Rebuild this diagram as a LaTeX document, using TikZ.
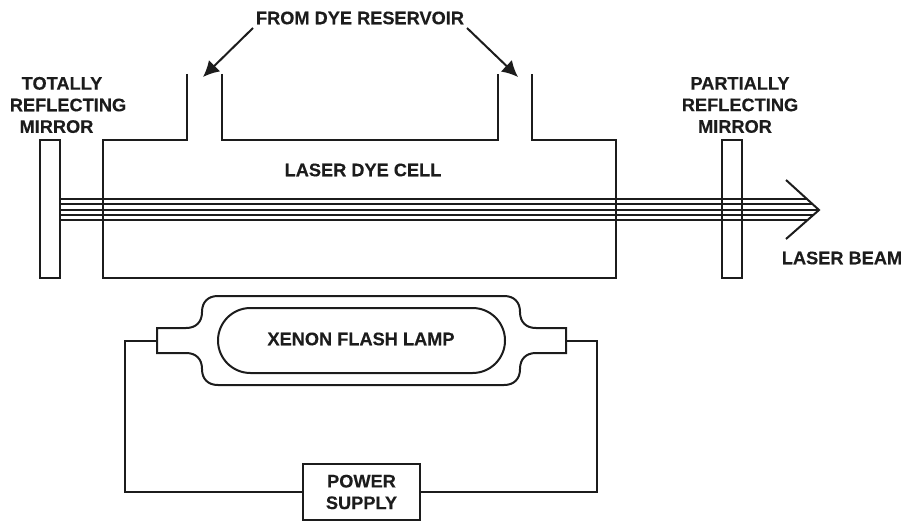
\documentclass[tikz,border=0pt]{standalone}
\usepackage{fontspec}
\setmainfont[BoldFeatures={FakeBold=0.3}]{Liberation Sans}
\usetikzlibrary{arrows.meta}
\definecolor{ink}{HTML}{1C1C1C}
\tikzset{
  wire/.style={draw=ink,line width=2pt,line join=miter},
  beamline/.style={draw=ink,line width=2pt},
  flowarrow/.style={draw=ink,line width=2pt,-{Latex[length=16pt,width=16pt]}},
  mirrorbox/.style={draw=ink,line width=2pt,minimum width=20pt,minimum height=138pt,inner sep=0pt,outer sep=0pt},
  supplybox/.style={draw=ink,line width=2pt,minimum width=117pt,minimum height=56pt,inner sep=0pt,outer sep=0pt},
  lbl/.style={text=ink,inner sep=0pt,align=center,font=\fontsize{18.2}{21.6}\selectfont\bfseries},
}
\begin{document}
\begin{tikzpicture}[x=1pt,y=-1pt]
\useasboundingbox (0,0) rectangle (904,521);
% mirrors
\node[mirrorbox] (mL) at (50,209) {};
\node[mirrorbox] (mR) at (732,209) {};
% dye cell
\draw[wire] (187,74) -- (187,140) -- (103,140) -- (103,278) -- (616,278) -- (616,140) -- (532,140) -- (532,74);
\draw[wire] (222,74) -- (222,140) -- (498,140) -- (498,74);
% beam
\coordinate (tip) at (819,210);
\coordinate (b1) at (60,199);
\coordinate (b2) at (60,204);
\coordinate (b3) at (60,210);
\coordinate (b4) at (60,215);
\coordinate (b5) at (60,220);
\draw[beamline] (b1) -- (807,199);
\draw[beamline] (b2) -- (813,204);
\draw[beamline] (b3) -- (tip);
\draw[beamline] (b4) -- (813,215);
\draw[beamline] (b5) -- (807,220);
\draw[wire] (786,180) -- (tip) -- (786,239);
% lamp envelope
\draw[wire] (157,328) -- (186,328)
  .. controls (196,328) and (202,322) .. (202,312)
  .. controls (202,302) and (208,296) .. (218,296)
  -- (504,296)
  .. controls (514,296) and (520,302) .. (520,312)
  .. controls (520,322) and (526,328) .. (536,328)
  -- (566,328) -- (566,353) -- (536,353)
  .. controls (526,353) and (520,359) .. (520,369)
  .. controls (520,379) and (514,385) .. (504,385)
  -- (218,385)
  .. controls (208,385) and (202,379) .. (202,369)
  .. controls (202,359) and (196,353) .. (186,353)
  -- (157,353) -- cycle;
\coordinate (fL) at (157,341);
\coordinate (fR) at (566,341);
% lamp tube
\node[lbl] (lamp) at (361,339) {XENON FLASH LAMP};
\draw[wire] (250.5,308) -- (472.5,308)
  .. controls (490.5,308) and (505,322.5) .. (505,340.5)
  .. controls (505,358.5) and (490.5,373) .. (472.5,373)
  -- (250.5,373)
  .. controls (232.5,373) and (218,358.5) .. (218,340.5)
  .. controls (218,322.5) and (232.5,308) .. (250.5,308) -- cycle;
% power supply
\node[supplybox,lbl] (psu) at (361.5,492) {POWER\\SUPPLY};
\draw[wire] (fL) -- (125,341) |- (psu.west);
\draw[wire] (fR) -- (597,341) |- (psu.east);
% labels
\node[lbl] (res) at (360,18) {FROM DYE RESERVOIR};
\node[lbl] (cell) at (363,170) {LASER DYE CELL};
\node[lbl] (beam) at (842,258) {LASER BEAM};
\node[lbl] (totl) at (68,105) {TOTALLY\hspace*{12pt}\\REFLECTING\\MIRROR\hspace*{23pt}};
\node[lbl] (part) at (740,105) {PARTIALLY\\REFLECTING\\MIRROR\hspace*{10pt}};
% reservoir arrows
\coordinate (a1s) at (253,28);
\coordinate (a1t) at (203,77);
\coordinate (a2s) at (467,28);
\coordinate (a2t) at (518,77);
\draw[flowarrow] (a1s) -- (a1t);
\draw[flowarrow] (a2s) -- (a2t);
\end{tikzpicture}
\end{document}
